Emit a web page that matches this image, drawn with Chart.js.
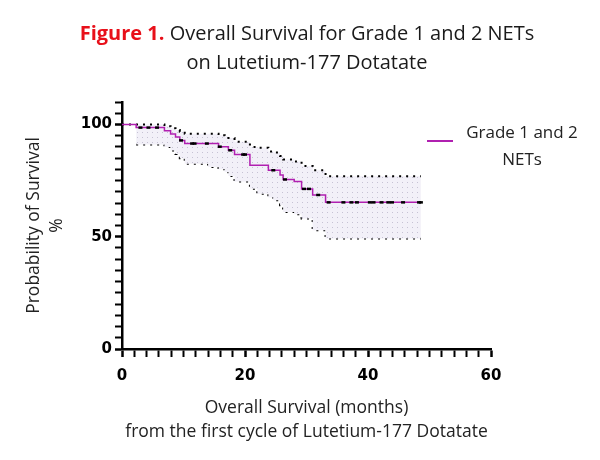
<!DOCTYPE html>
<html>
<head>
<meta charset="utf-8">
<script src="https://cdn.jsdelivr.net/npm/chart.js@4"></script>
<style>
  html, body { margin: 0; padding: 0; background: #fff; }
  #wrap { position: relative; width: 600px; height: 460px; overflow: hidden; }
  #c { position: absolute; left: 0; top: 0; }
  .title { position: absolute; left: 0; width: 614px; text-align: center; font-family: "Open Sans", sans-serif; font-size: 20px; color: #1a1a1a; white-space: nowrap; }
  .title b { color: #e8101a; font-weight: 700; }
  #legend { position: absolute; left: 427px; top: 118px; width: 180px; font-family: "Open Sans", sans-serif; font-size: 17px; color: #222; }
  #legend .sw { position: absolute; left: 0; top: 22px; width: 26px; height: 2px; background: #b020b0; }
  #legend .txt { position: absolute; left: 35px; width: 120px; text-align: center; line-height: 27px; }
</style>
</head>
<body>
<div id="wrap">
  <canvas id="c" width="600" height="460"></canvas>
  <div class="title" style="top:19px"><b>Figure 1.</b> Overall Survival for Grade 1 and 2 NETs</div>
  <div class="title" style="top:48px">on Lutetium-177 Dotatate</div>
  <div id="legend"><div class="sw"></div><div class="txt">Grade 1 and 2<br>NETs</div></div>
</div>
<script>
// ---- data (months, % survival) ----
const times    = [0, 2.3, 6.9, 7.9, 8.7, 9.4, 10.2, 14.0, 15.7, 16.7, 17.3, 18.3, 20.8, 22.0, 23.8, 24.6, 25.7, 26.2, 28.0, 29.2, 31.0, 33.1, 48.6];
const survival = [100, 98.6, 97.2, 95.8, 94.4, 92.9, 91.5, 91.5, 90.1, 90.1, 88.5, 86.6, 81.8, 81.8, 79.6, 79.6, 77.5, 75.5, 74.6, 71.3, 68.6, 65.3, 65.3];
const upperCI  = [100, 100, 99.2, 98.3, 97.5, 96.8, 95.9, 95.9, 95.2, 94.7, 94.0, 92.3, 90.0, 89.6, 88.0, 87.5, 86.0, 84.4, 83.5, 81.5, 79.6, 76.9, 76.9];
const lowerCI  = [100, 91.1, 90.0, 88.4, 86.8, 85.0, 82.5, 81.0, 80.0, 78.8, 77.0, 74.6, 71.4, 69.1, 67.5, 66.2, 64.0, 61.0, 60.0, 58.1, 52.9, 49.2, 49.2];
const censorTimes = [3.0, 4.3, 5.7, 9.6, 11.4, 11.8, 13.8, 15.9, 17.6, 19.7, 20.0, 24.6, 26.5, 29.6, 30.4, 31.9, 33.6, 36.0, 37.3, 38.2, 40.3, 40.9, 42.2, 43.3, 43.9, 45.7, 48.3, 48.6];
const censorSurv  = [98.6, 98.6, 98.6, 92.9, 91.5, 91.5, 91.5, 90.1, 88.5, 86.6, 86.6, 79.6, 75.5, 71.3, 71.3, 68.6, 65.3, 65.3, 65.3, 65.3, 65.3, 65.3, 65.3, 65.3, 65.3, 65.3, 65.3, 65.3];
const xTickLabels = [0, 20, 40, 60];
const yTickLabels = [0, 50, 100];
const seriesName = "Grade 1 and 2 NETs";

// ---- styles ----
const curveColor = '#b020b0';
function makePattern() {
  const p = document.createElement('canvas');
  p.width = 5; p.height = 5;
  const g = p.getContext('2d');
  g.fillStyle = '#f2f0f8';
  g.fillRect(0, 0, 5, 5);
  g.fillStyle = '#c6c2d4';
  g.fillRect(2, 2, 1, 1);
  return g.createPattern(p, 'repeat');
}
const pts = arr => times.map((t, i) => ({x: t, y: arr[i]}));

const ctx = document.getElementById('c').getContext('2d');
new Chart(ctx, {
  type: 'line',
  data: {
    datasets: [
      {
        label: 'censored',
        type: 'scatter',
        data: censorTimes.map((t, i) => ({x: t, y: censorSurv[i]})),
        pointStyle: 'line',
        pointRadius: 2,
        pointBorderColor: '#000',
        pointBorderWidth: 2.5,
        showLine: false
      },
      {
        label: seriesName,
        data: pts(survival),
        stepped: true,
        borderColor: curveColor,
        borderWidth: 1.5,
        pointRadius: 0,
        fill: false
      },
      {
        label: 'upper',
        data: pts(upperCI),
        stepped: true,
        borderColor: '#000',
        borderWidth: 2,
        borderDash: [2, 5],
        pointRadius: 0,
        fill: '+1',
        backgroundColor: makePattern()
      },
      {
        label: 'lower',
        data: pts(lowerCI),
        stepped: true,
        borderColor: '#000',
        borderWidth: 2,
        borderDash: [2, 5],
        pointRadius: 0,
        fill: false,
        segment: { borderColor: c => c.p0DataIndex === 0 ? 'rgba(0,0,0,0)' : '#000' }
      }
    ]
  },
  options: {
    responsive: false,
    animation: false,
    devicePixelRatio: 1,
    layout: { padding: { left: 0, right: 109, top: 102, bottom: 0 } },
    plugins: { legend: { display: false }, tooltip: { enabled: false }, title: { display: false } },
    scales: {
      x: {
        type: 'linear',
        min: 0, max: 60,
        afterFit: s => { s.height = 111; },
        border: { display: true, color: '#000', width: 2.5 },
        grid: {
          drawOnChartArea: false, drawTicks: true, tickLength: 8,
          tickColor: '#000',
          tickWidth: c => (xTickLabels.includes(c.tick && c.tick.value) ? 2.5 : 2)
        },
        ticks: {
          stepSize: 2, autoSkip: false, maxRotation: 0, padding: 10,
          color: '#000',
          font: { family: 'DejaVu Sans', size: 15, weight: 'bold' },
          callback: v => (xTickLabels.includes(v) ? String(v) : '')
        },
        title: {
          display: true,
          text: ['Overall Survival (months)', 'from the first cycle of Lutetium-177 Dotatate'],
          color: '#222',
          font: { family: 'Open Sans', size: 17.5, lineHeight: 1.37 },
          padding: { top: 0, bottom: 16 }
        }
      },
      y: {
        type: 'linear',
        min: 0, max: 110,
        afterFit: s => { s.width = 122; },
        border: { display: true, color: '#000', width: 2.5 },
        grid: {
          drawOnChartArea: false, drawTicks: true, tickLength: 7,
          tickColor: '#000',
          tickWidth: c => (yTickLabels.includes(c.tick && c.tick.value) ? 2.5 : 2)
        },
        ticks: {
          stepSize: 5, autoSkip: false, padding: 3,
          color: '#000',
          font: { family: 'DejaVu Sans', size: 15, weight: 'bold' },
          callback: v => (yTickLabels.includes(v) ? String(v) : '')
        },
        title: {
          display: true,
          text: ['Probability of Survival', '%'],
          color: '#222',
          font: { family: 'Open Sans', size: 17.5, lineHeight: 1.3 },
          padding: { top: 23, bottom: 0 }
        }
      }
    }
  }
});
</script>
</body>
</html>
